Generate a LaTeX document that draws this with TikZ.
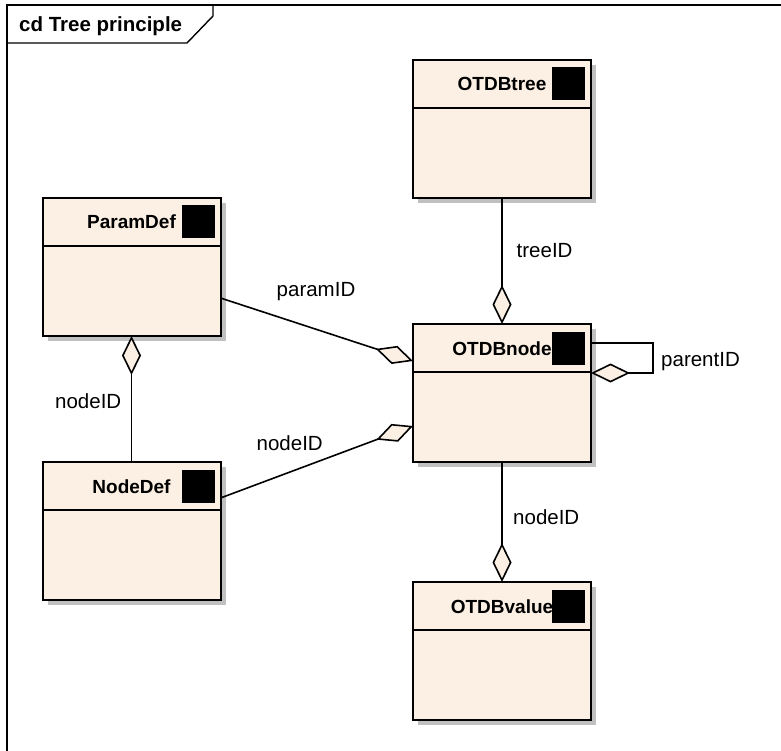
\documentclass[tikz,border=0pt]{standalone}
\usepackage{fontspec}
\setmainfont{Liberation Sans}
\usetikzlibrary{arrows.meta,shadows}
\definecolor{classfill}{RGB}{251,240,227}
\definecolor{shadowgray}{RGB}{192,192,192}

\begin{document}
\begin{tikzpicture}[x=1pt,y=-1pt,
  frame/.style={draw, line width=1.4pt},
  cls/.style={draw, line width=2pt, fill=classfill, rectangle, minimum width=178pt, minimum height=138pt,
    inner sep=0pt, outer sep=0pt, drop shadow={shadow xshift=5pt, shadow yshift=-5pt, fill=shadowgray, opacity=1}},
  clsname/.style={font=\fontsize{19}{23}\selectfont\bfseries, inner sep=0pt, anchor=base},
  icon/.style={fill=black, minimum size=33pt, inner sep=0pt, outer sep=0pt},
  lbl/.style={font=\fontsize{20.5}{24}\selectfont, inner sep=0pt, anchor=base west},
  sep/.style={draw, line width=2pt},
  assoc/.style={draw, line width=1.6pt, -{Diamond[length=39pt,width=19pt,fill=classfill]}},
  rassoc/.style={draw, line width=1.6pt, {Diamond[length=39pt,width=19pt,fill=classfill]}-}]
\useasboundingbox (0,0) rectangle (781,751);

% diagram frame
\path[frame] (7,751) -- (7,5) -- (781,5);
\path[frame] (7,43) -- (187,43) -- (213,16) -- (213,5);
\node[font=\fontsize{20.5}{24}\selectfont\bfseries, inner sep=0pt, anchor=base west] (title) at (19,32) {cd Tree principle};

% classes
\node[cls] (otree) at (502,129) {};
\node[cls] (onode) at (502,393) {};
\node[cls] (ovalue) at (502,651) {};
\node[cls] (pdef) at (131.5,267) {};
\node[cls] (ndef) at (131.5,531) {};

\path[sep] ([yshift=-48pt]otree.north west) -- ([yshift=-48pt]otree.north east);
\path[sep] ([yshift=-48pt]onode.north west) -- ([yshift=-48pt]onode.north east);
\path[sep] ([yshift=-48pt]ovalue.north west) -- ([yshift=-48pt]ovalue.north east);
\path[sep] ([yshift=-48pt]pdef.north west) -- ([yshift=-48pt]pdef.north east);
\path[sep] ([yshift=-48pt]ndef.north west) -- ([yshift=-48pt]ndef.north east);

\node[clsname] (otreet) at ([yshift=-31pt]otree.north) {OTDBtree};
\node[clsname] (onodet) at ([yshift=-31pt]onode.north) {OTDBnode};
\node[clsname] (ovaluet) at ([yshift=-31pt]ovalue.north) {OTDBvalue};
\node[clsname] (pdeft) at ([yshift=-31pt]pdef.north) {ParamDef};
\node[clsname] (ndeft) at ([yshift=-31pt]ndef.north) {NodeDef};

\node[icon] (otrees) at ([xshift=-22.5pt,yshift=-24pt]otree.north east) {};
\node[icon] (onodes) at ([xshift=-22.5pt,yshift=-24pt]onode.north east) {};
\node[icon] (ovalues) at ([xshift=-22.5pt,yshift=-24pt]ovalue.north east) {};
\node[icon] (pdefs) at ([xshift=-22.5pt,yshift=-24pt]pdef.north east) {};
\node[icon] (ndefs) at ([xshift=-22.5pt,yshift=-24pt]ndef.north east) {};

% associations
\path[assoc] (otree.south) -- (onode.north);
\path[assoc] ([yshift=-31pt]pdef.east) -- ([yshift=32pt]onode.west);
\path[assoc] ([yshift=33pt]ndef.east) -- ([yshift=-33pt]onode.west);
\path[assoc] (onode.south) -- (ovalue.north);
\path[rassoc] (pdef.south) -- (ndef.north);
\path[assoc] ([yshift=-19pt]onode.north east) -- ++(62,0) |- ([yshift=-49pt]onode.north east);

\node[lbl] (treeid) at (516.5,257.5) {treeID};
\node[lbl] (paramid) at (276.5,296) {paramID};
\node[lbl] (parentid) at (661,366) {parentID};
\node[lbl] (nodeida) at (256.5,450) {nodeID};
\node[lbl] (nodeidb) at (55,408) {nodeID};
\node[lbl] (nodeidc) at (513,524) {nodeID};
\end{tikzpicture}
\end{document}
